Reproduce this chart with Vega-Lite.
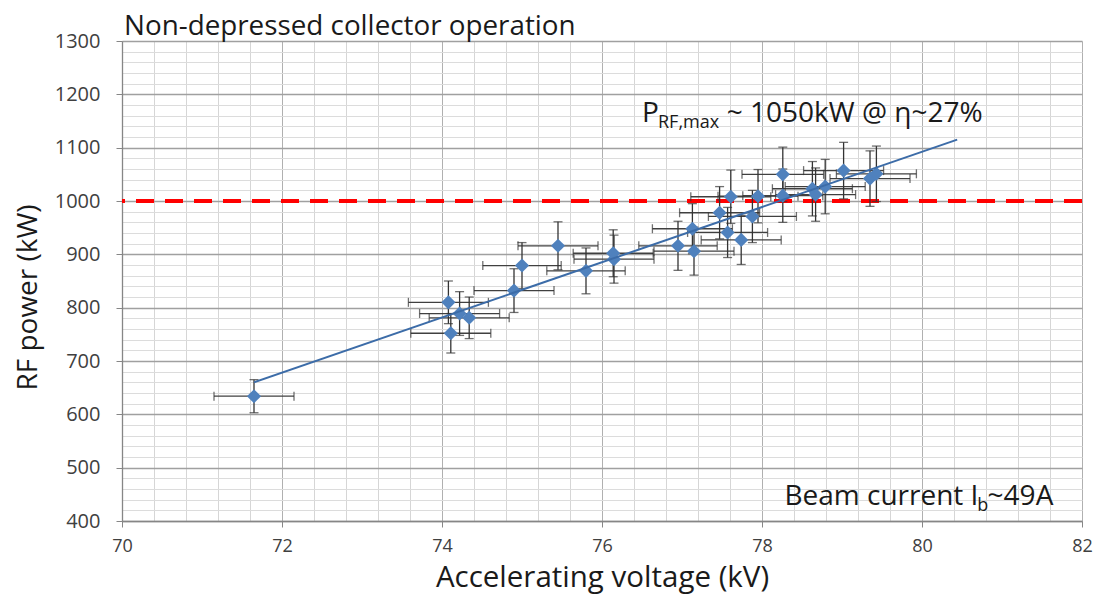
{
  "$schema": "https://vega.github.io/schema/vega-lite/v6.json",
  "width": 960,
  "height": 480,
  "autosize": {"type": "none"},
  "padding": {"left": 122, "top": 41, "right": 12, "bottom": 82},
  "background": "white",
  "config": {
    "view": {"stroke": null},
    "font": "Open Sans",
    "axis": {"labelOverlap": false, "labelFlush": false, "labelBound": false},
    "axisX": {"tickCount": 100, "tickMinStep": 0.1},
    "axisY": {"tickCount": 100, "tickMinStep": 1}
  },
  "title": {
    "text": "Non-depressed collector operation",
    "anchor": "start",
    "frame": "group",
    "font": "Open Sans",
    "fontSize": 27.8,
    "fontWeight": "normal",
    "color": "#1a1a1a",
    "baseline": "alphabetic",
    "offset": -32,
    "dx": 2
  },
  "datasets": {
    "pts": [
      {"x": 71.65, "y": 634, "xmin": 71.15, "xmax": 72.15, "ymin": 603, "ymax": 665},
      {"x": 74.08, "y": 810, "xmin": 73.58, "xmax": 74.58, "ymin": 770, "ymax": 850},
      {"x": 74.22, "y": 789, "xmin": 73.72, "xmax": 74.72, "ymin": 748, "ymax": 830},
      {"x": 74.34, "y": 781, "xmin": 73.84, "xmax": 74.84, "ymin": 742, "ymax": 820},
      {"x": 74.11, "y": 752, "xmin": 73.61, "xmax": 74.61, "ymin": 715, "ymax": 789},
      {"x": 74.9, "y": 832, "xmin": 74.4, "xmax": 75.4, "ymin": 791, "ymax": 873},
      {"x": 75.0, "y": 879, "xmin": 74.51, "xmax": 75.49, "ymin": 836, "ymax": 922},
      {"x": 75.45, "y": 916, "xmin": 74.95, "xmax": 75.95, "ymin": 871, "ymax": 961},
      {"x": 75.8, "y": 869, "xmin": 75.31, "xmax": 76.29, "ymin": 826, "ymax": 912},
      {"x": 76.14, "y": 902, "xmin": 75.64, "xmax": 76.64, "ymin": 858, "ymax": 946},
      {"x": 76.15, "y": 891, "xmin": 75.65, "xmax": 76.65, "ymin": 846, "ymax": 936},
      {"x": 76.95, "y": 916, "xmin": 76.46, "xmax": 77.44, "ymin": 870, "ymax": 962},
      {"x": 77.15, "y": 906, "xmin": 76.65, "xmax": 77.65, "ymin": 861, "ymax": 951},
      {"x": 77.13, "y": 948, "xmin": 76.63, "xmax": 77.63, "ymin": 901, "ymax": 995},
      {"x": 77.47, "y": 978, "xmin": 76.97, "xmax": 77.97, "ymin": 929, "ymax": 1027},
      {"x": 77.61, "y": 1008, "xmin": 77.11, "xmax": 78.11, "ymin": 958, "ymax": 1058},
      {"x": 77.57, "y": 941, "xmin": 77.07, "xmax": 78.07, "ymin": 894, "ymax": 988},
      {"x": 77.74, "y": 927, "xmin": 77.24, "xmax": 78.24, "ymin": 881, "ymax": 973},
      {"x": 77.88, "y": 971, "xmin": 77.33, "xmax": 78.43, "ymin": 922, "ymax": 1020},
      {"x": 77.95, "y": 1009, "xmin": 77.45, "xmax": 78.45, "ymin": 959, "ymax": 1059},
      {"x": 78.26, "y": 1050, "xmin": 77.75, "xmax": 78.77, "ymin": 999, "ymax": 1101},
      {"x": 78.26, "y": 1010, "xmin": 77.76, "xmax": 78.76, "ymin": 960, "ymax": 1060},
      {"x": 78.63, "y": 1023, "xmin": 78.13, "xmax": 79.13, "ymin": 972, "ymax": 1074},
      {"x": 78.67, "y": 1012, "xmin": 78.17, "xmax": 79.17, "ymin": 962, "ymax": 1062},
      {"x": 78.79, "y": 1027, "xmin": 78.29, "xmax": 79.29, "ymin": 976, "ymax": 1078},
      {"x": 79.02, "y": 1057, "xmin": 78.52, "xmax": 79.52, "ymin": 1004, "ymax": 1110},
      {"x": 79.35, "y": 1042, "xmin": 78.85, "xmax": 79.85, "ymin": 990, "ymax": 1094},
      {"x": 79.43, "y": 1051, "xmin": 78.93, "xmax": 79.93, "ymin": 999, "ymax": 1103}
    ],
    "trend": [
      {"x": 71.65, "y": 660},
      {"x": 80.44, "y": 1115}
    ]
  },
  "layer": [
    {
      "data": {"name": "pts"},
      "mark": {"type": "rule", "color": "#404040", "strokeWidth": 1.3},
      "encoding": {
        "x": {
          "field": "xmin", "type": "quantitative",
          "scale": {"domain": [70, 82], "nice": false, "zero": false},
          "axis": {
            "title": "Accelerating voltage (kV)",
            "values": [70,70.4,70.8,71.2,71.6,72,72.4,72.8,73.2,73.6,74,74.4,74.8,75.2,75.6,76,76.4,76.8,77.2,77.6,78,78.4,78.8,79.2,79.6,80,80.4,80.8,81.2,81.6,82],
            "tickCount": 100,
            "tickMinStep": 0.1,
            "format": "d",
            "labelExpr": "datum.value % 2 === 0 ? datum.label : ''",
            "labelOverlap": false,
            "labelFlush": false,
            "labelFont": "Open Sans",
            "labelFontSize": 18,
            "labelColor": "#404040",
            "labelPadding": 10,
            "grid": true,
            "gridColor": {"condition": {"test": "datum.value % 2 === 0", "value": "#b0b0b0"}, "value": "#d6d6d6"},
            "gridWidth": 1,
            "tickSize": 6,
            "tickColor": "#868686",
            "tickOpacity": {"condition": {"test": "datum.value % 2 === 0", "value": 1}, "value": 0},
            "domainColor": "#868686",
            "domainWidth": 1.3,
            "titleFont": "Open Sans",
            "titleFontSize": 29.5,
            "titleFontWeight": "normal",
            "titleColor": "#1a1a1a",
            "titlePadding": 8
          }
        },
        "x2": {"field": "xmax"},
        "y": {
          "field": "y", "type": "quantitative",
          "scale": {"domain": [400, 1300], "nice": false, "zero": false},
          "axis": {
            "title": "RF power (kW)",
            "values": [400,420,440,460,480,500,520,540,560,580,600,620,640,660,680,700,720,740,760,780,800,820,840,860,880,900,920,940,960,980,1000,1020,1040,1060,1080,1100,1120,1140,1160,1180,1200,1220,1240,1260,1280,1300],
            "tickCount": 100,
            "format": "d",
            "labelExpr": "datum.value % 100 === 0 ? datum.label : ''",
            "labelOverlap": false,
            "labelFlush": false,
            "labelFont": "Open Sans",
            "labelFontSize": 20,
            "labelColor": "#404040",
            "labelPadding": 16,
            "grid": true,
            "gridColor": {"condition": {"test": "datum.value % 100 === 0", "value": "#a0a0a0"}, "value": "#dcdcdc"},
            "gridWidth": {"condition": {"test": "datum.value % 100 === 0", "value": 1.3}, "value": 1},
            "tickSize": 6,
            "tickColor": "#868686",
            "tickOpacity": {"condition": {"test": "datum.value % 100 === 0", "value": 1}, "value": 0},
            "domainColor": "#868686",
            "domainWidth": 1.3,
            "titleFont": "Open Sans",
            "titleFontSize": 28,
            "titleFontWeight": "normal",
            "titleColor": "#1a1a1a",
            "titlePadding": 12,
            "titleY": 256
          }
        }
      }
    },
    {
      "data": {"values": [{}]},
      "mark": {"type": "rule", "color": "#ff0000", "strokeWidth": 4, "strokeDash": [18, 11]},
      "encoding": {
        "y": {"datum": 1000, "type": "quantitative"}
      }
    },
    {
      "data": {"name": "pts"},
      "mark": {"type": "rule", "color": "#333333", "strokeWidth": 1.3},
      "encoding": {
        "x": {"field": "x", "type": "quantitative"},
        "y": {"field": "ymin", "type": "quantitative"},
        "y2": {"field": "ymax"}
      }
    },
    {
      "data": {"name": "pts"},
      "mark": {"type": "tick", "orient": "vertical", "size": 9, "thickness": 1.3, "color": "#333333"},
      "encoding": {
        "x": {"field": "xmin", "type": "quantitative"},
        "y": {"field": "y", "type": "quantitative"}
      }
    },
    {
      "data": {"name": "pts"},
      "mark": {"type": "tick", "orient": "vertical", "size": 9, "thickness": 1.3, "color": "#333333"},
      "encoding": {
        "x": {"field": "xmax", "type": "quantitative"},
        "y": {"field": "y", "type": "quantitative"}
      }
    },
    {
      "data": {"name": "pts"},
      "mark": {"type": "tick", "orient": "horizontal", "size": 9, "thickness": 1.3, "color": "#333333"},
      "encoding": {
        "x": {"field": "x", "type": "quantitative"},
        "y": {"field": "ymin", "type": "quantitative"}
      }
    },
    {
      "data": {"name": "pts"},
      "mark": {"type": "tick", "orient": "horizontal", "size": 9, "thickness": 1.3, "color": "#333333"},
      "encoding": {
        "x": {"field": "x", "type": "quantitative"},
        "y": {"field": "ymax", "type": "quantitative"}
      }
    },
    {
      "data": {"name": "pts"},
      "mark": {"type": "point", "shape": "diamond", "filled": true, "size": 200, "color": "#4f81bd", "opacity": 1},
      "encoding": {
        "x": {"field": "x", "type": "quantitative"},
        "y": {"field": "y", "type": "quantitative"}
      }
    },
    {
      "data": {"name": "trend"},
      "mark": {"type": "line", "color": "#3c6ca8", "strokeWidth": 2},
      "encoding": {
        "x": {"field": "x", "type": "quantitative"},
        "y": {"field": "y", "type": "quantitative"}
      }
    },
    {
      "data": {"values": [{}]},
      "mark": {"type": "text", "text": "P", "font": "Open Sans", "fontSize": 28, "color": "#1a1a1a", "align": "left", "baseline": "alphabetic"},
      "encoding": {
        "x": {"datum": 76.5, "type": "quantitative"},
        "y": {"datum": 1148, "type": "quantitative"}
      }
    },
    {
      "data": {"values": [{}]},
      "mark": {"type": "text", "text": "RF,max", "font": "Open Sans", "fontSize": 18, "color": "#1a1a1a", "align": "left", "baseline": "alphabetic"},
      "encoding": {
        "x": {"datum": 76.7, "type": "quantitative"},
        "y": {"datum": 1136, "type": "quantitative"}
      }
    },
    {
      "data": {"values": [{}]},
      "mark": {"type": "text", "text": "~ 1050kW @ η~27%", "font": "Open Sans", "fontSize": 28, "color": "#1a1a1a", "align": "left", "baseline": "alphabetic"},
      "encoding": {
        "x": {"datum": 77.56, "type": "quantitative"},
        "y": {"datum": 1148, "type": "quantitative"}
      }
    },
    {
      "data": {"values": [{}]},
      "mark": {"type": "text", "text": "Beam current I", "font": "Open Sans", "fontSize": 28, "color": "#1a1a1a", "align": "left", "baseline": "alphabetic"},
      "encoding": {
        "x": {"datum": 78.28, "type": "quantitative"},
        "y": {"datum": 430, "type": "quantitative"}
      }
    },
    {
      "data": {"values": [{}]},
      "mark": {"type": "text", "text": "b", "font": "Open Sans", "fontSize": 18, "color": "#1a1a1a", "align": "left", "baseline": "alphabetic"},
      "encoding": {
        "x": {"datum": 80.69, "type": "quantitative"},
        "y": {"datum": 419, "type": "quantitative"}
      }
    },
    {
      "data": {"values": [{}]},
      "mark": {"type": "text", "text": "~49A", "font": "Open Sans", "fontSize": 28, "color": "#1a1a1a", "align": "left", "baseline": "alphabetic"},
      "encoding": {
        "x": {"datum": 80.82, "type": "quantitative"},
        "y": {"datum": 430, "type": "quantitative"}
      }
    }
  ]
}
